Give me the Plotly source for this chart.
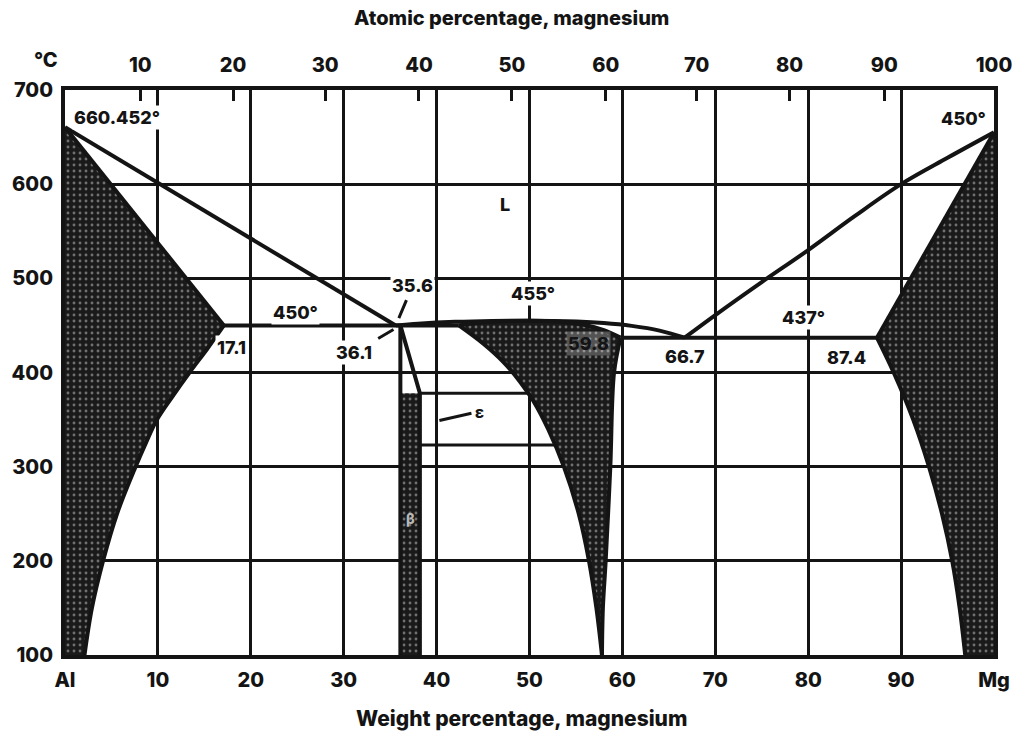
import numpy as np
import plotly.graph_objects as go

# ---------------- axes ----------------
wt_tick_vals = [0, 10, 20, 30, 40, 50, 60, 70, 80, 90, 100]
wt_tick_text = ["Al", "10", "20", "30", "40", "50", "60", "70", "80", "90", "Mg"]
temp_tick_vals = [100, 200, 300, 400, 500, 600, 700]
# atomic-percent scale, placed at the equivalent weight percent
at_tick_pos = [8.1, 18.1, 28.0, 38.1, 48.1, 58.2, 68.0, 78.0, 88.2, 100.0]
at_tick_text = ["10", "20", "30", "40", "50", "60", "70", "80", "90", "100"]

# ---------------- invariant points ----------------
T_AL_MELT = 660.452
T_MG_MELT = 655.0
T_EUT_AL = 450.0          # L -> alpha + beta
T_EUT_MG = 437.0          # L -> gamma + delta
T_GAMMA_MAX = 455.0
X_ALPHA_MAX = 17.1
X_EUT_AL = 35.6
X_BETA = 36.1
X_BETA_R = 38.2
T_BETA_KNEE = 378.0
X_EUT_MG = 66.7
X_GAMMA_R = 59.8
X_DELTA_MAX = 87.4

# ---------------- phase boundaries (wt% Mg, deg C) ----------------
al_solvus_wt = [17.1, 15.3, 13.4, 11.6, 9.9, 8.7, 7.6, 5.6, 4.1, 2.9, 2.1]
al_solvus_t = [450, 425, 400, 375, 350, 325, 300, 250, 200, 150, 100]

mid_liq_wt = [35.6, 38.0, 42.0, 46.0, 50.0, 54.0, 58.0, 61.0, 64.0, 66.7]
mid_liq_t = [450, 451.8, 453.8, 454.8, 455, 454.5, 452.5, 449.5, 444.5, 437]

mg_liq_wt = [66.7, 70, 75, 80, 85, 90, 95, 100]
mg_liq_t = [437, 461, 496, 530, 566, 600, 628, 655]

mg_solvus_wt = [87.4, 89.2, 91.3, 93.0, 94.4, 95.5, 96.3, 96.9]
mg_solvus_t = [437, 400, 350, 300, 250, 200, 150, 100]

gam_top_wt = [42.4, 44.0, 47.0, 50.0, 53.0, 56.0, 58.0, 59.8]
gam_top_t = [450, 452.3, 454.3, 455, 454.2, 450.5, 445, 437]

gam_left_wt = [42.4, 45.1, 47.3, 49.0, 50.4, 52.0, 53.7, 55.3, 56.4, 57.2, 57.8]
gam_left_t = [450, 430, 410, 390, 370, 340, 300, 250, 200, 150, 100]

gam_right_wt = [59.8, 59.1, 58.7, 58.2, 57.9, 57.8]
gam_right_t = [437, 400, 300, 200, 150, 100]

eps_t = [378, 323]

INK = "#141414"
FONT = "Inter"
LW = 4

pattern = dict(shape=".", bgcolor="#1a1a1a", fgcolor="#707070",
               size=6, solidity=0.18, fillmode="replace")

fig = go.Figure()


def fill_region(xs, ys):
    fig.add_trace(go.Scatter(x=xs, y=ys, mode="lines", fill="toself",
                             fillcolor="#1a1a1a", fillpattern=pattern,
                             line=dict(width=0, color=INK),
                             hoverinfo="skip", showlegend=False))


def line(xs, ys, shape="linear", width=LW):
    fig.add_trace(go.Scatter(x=xs, y=ys, mode="lines",
                             line=dict(color=INK, width=width, shape=shape),
                             hoverinfo="skip", showlegend=False))


# alpha (Al) solid solution
fill_region([0, X_ALPHA_MAX] + al_solvus_wt[1:] + [0],
            [T_AL_MELT, T_EUT_AL] + al_solvus_t[1:] + [100])
# delta (Mg) solid solution
fill_region([100, X_DELTA_MAX] + mg_solvus_wt[1:] + [100],
            [T_MG_MELT, T_EUT_MG] + mg_solvus_t[1:] + [100])
# gamma phase
fill_region(gam_top_wt + gam_right_wt[1:] + gam_left_wt[::-1][1:],
            gam_top_t + gam_right_t[1:] + gam_left_t[::-1][1:])
# beta phase
fill_region([X_BETA, X_BETA_R, X_BETA_R, X_BETA],
            [T_BETA_KNEE, T_BETA_KNEE, 100, 100])

# liquidus lines
line([0, X_EUT_AL], [T_AL_MELT, T_EUT_AL])
line(mid_liq_wt, mid_liq_t, "spline")
line(mg_liq_wt, mg_liq_t, "spline")
# solidus lines
line([0, X_ALPHA_MAX], [T_AL_MELT, T_EUT_AL])
line([100, X_DELTA_MAX], [T_MG_MELT, T_EUT_MG])
# solvus lines
line(al_solvus_wt, al_solvus_t, "spline")
line(mg_solvus_wt, mg_solvus_t, "spline")
# gamma boundaries
line(gam_top_wt, gam_top_t, "spline")
line(gam_left_wt, gam_left_t, "spline")
line(gam_right_wt, gam_right_t, "spline")
# beta boundaries
line([X_BETA, X_BETA], [T_EUT_AL, 100])
line([X_BETA, X_BETA_R, X_BETA_R], [T_EUT_AL, T_BETA_KNEE, 100])
# eutectic isotherms
line([X_ALPHA_MAX, gam_left_wt[0]], [T_EUT_AL, T_EUT_AL])
line([X_GAMMA_R, X_DELTA_MAX], [T_EUT_MG, T_EUT_MG])
# epsilon band
gl_t = gam_left_t[::-1]
gl_x = gam_left_wt[::-1]
for t in eps_t:
    line([X_BETA_R, float(np.interp(t, gl_t, gl_x))], [t, t], width=3)

# trace that carries the top (atomic %) axis
fig.add_trace(go.Scatter(x=[0, 100], y=[100, 100], xaxis="x2", mode="lines",
                         line=dict(width=0), hoverinfo="skip", showlegend=False))

lab_font = dict(family=FONT, size=18, color=INK, weight=800)
labels = [
    ("660.452°", 0.7, 671, "left", "white"),
    ("450°", 99.4, 670, "right", "white"),
    ("L", 47.4, 578, "center", "rgba(0,0,0,0)"),
    ("450°", 24.8, 464, "center", "white"),
    ("17.1", 17.9, 427, "center", "white"),
    ("455°", 50.4, 484, "center", "white"),
    ("59.8", 56.4, 431, "center", "rgba(255,255,255,0.25)"),
    ("66.7", 66.7, 417, "center", "white"),
    ("437°", 79.5, 458, "center", "white"),
    ("87.4", 84.1, 416, "center", "white"),
]
annotations = []
for text, x, y, anchor, bg in labels:
    annotations.append(dict(text=text, x=x, y=y, xref="x", yref="y",
                            xanchor=anchor, yanchor="middle", showarrow=False,
                            font=lab_font, bgcolor=bg, borderpad=1))
annotations.append(dict(text="β", x=37.15, y=245, xref="x", yref="y",
                        showarrow=False, font=dict(lab_font, size=14, color="#b8b8b8")))

# labels with leader lines
annotations.append(dict(text="35.6", x=X_EUT_AL, y=T_EUT_AL, ax=17, ay=-40,
                        showarrow=True, arrowhead=0, arrowwidth=3, arrowcolor=INK,
                        standoff=8, startstandoff=3, font=lab_font, bgcolor="white"))
annotations.append(dict(text="36.1", x=X_BETA, y=T_EUT_AL, ax=-46, ay=27,
                        showarrow=True, arrowhead=0, arrowwidth=3, arrowcolor=INK,
                        standoff=8, startstandoff=5, font=lab_font, bgcolor="white"))
annotations.append(dict(text="ε", x=40.3, y=349, ax=40, ay=-9,
                        showarrow=True, arrowhead=0, arrowwidth=3, arrowcolor=INK,
                        standoff=0, startstandoff=2, font=dict(lab_font, size=16)))

annotations += [
    dict(text="Atomic percentage, magnesium", x=0.481, y=1.127, xref="paper",
         yref="paper", xanchor="center", yanchor="middle", showarrow=False,
         font=dict(family=FONT, size=20, color=INK, weight=800)),
    dict(text="Weight percentage, magnesium", x=0.491, y=-0.112, xref="paper",
         yref="paper", xanchor="center", yanchor="middle", showarrow=False,
         font=dict(family=FONT, size=21, color=INK, weight=800)),
    dict(text="°C", x=-0.02, y=1.053, xref="paper", yref="paper",
         xanchor="center", yanchor="middle", showarrow=False,
         font=dict(family=FONT, size=20, color=INK, weight=800)),
]

tick_font = dict(family=FONT, size=20, color=INK, weight=800)
fig.update_layout(
    width=1024, height=734,
    margin=dict(l=62, r=24, t=90, b=79),
    paper_bgcolor="white", plot_bgcolor="white",
    showlegend=False,
    annotations=annotations,
    xaxis=dict(range=[0, 100], tickvals=wt_tick_vals, ticktext=wt_tick_text,
               showgrid=True, gridcolor=INK, gridwidth=3, zeroline=False,
               showline=True, linecolor=INK, linewidth=4, mirror=True,
               ticks="", tickfont=tick_font, ticklabelstandoff=4),
    xaxis2=dict(range=[0, 100], overlaying="x", side="top",
                tickvals=at_tick_pos, ticktext=at_tick_text,
                ticks="inside", ticklen=11, tickwidth=3, tickcolor=INK,
                showgrid=False, zeroline=False, showline=False,
                tickfont=tick_font, ticklabelstandoff=13),
    yaxis=dict(range=[100, 700], tickvals=temp_tick_vals,
               showgrid=True, gridcolor=INK, gridwidth=3, zeroline=False,
               showline=True, linecolor=INK, linewidth=4, mirror=True,
               ticks="", tickfont=tick_font, ticklabelstandoff=4),
)

fig.write_html("out.html")
